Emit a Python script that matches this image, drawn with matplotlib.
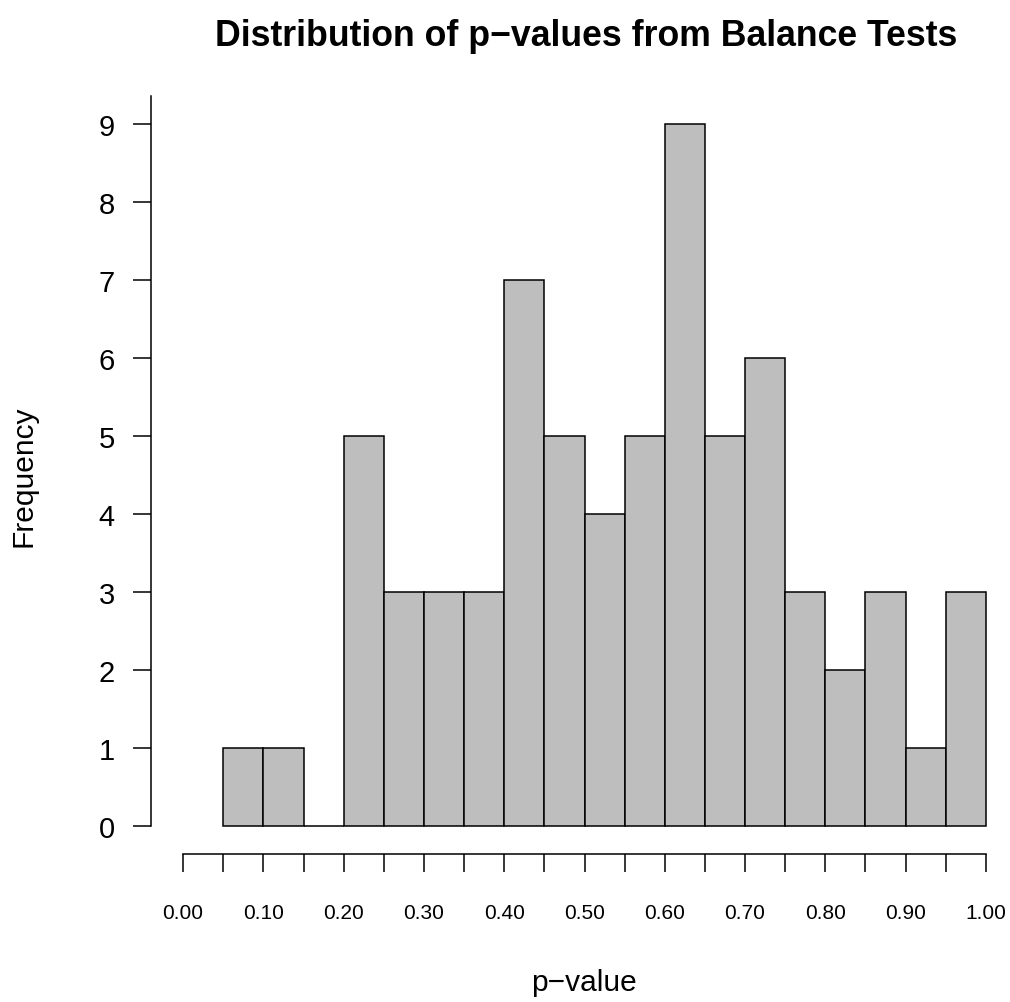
import matplotlib
matplotlib.use("Agg")
import matplotlib.pyplot as plt

# histogram of balance-test p-values, bins of width 0.05
bin_edges = [0.05, 0.10, 0.15, 0.20, 0.25, 0.30, 0.35, 0.40, 0.45, 0.50, 0.55,
             0.60, 0.65, 0.70, 0.75, 0.80, 0.85, 0.90, 0.95, 1.00]
counts = [1, 1, 0, 5, 3, 3, 3, 7, 5, 4, 5, 9, 5, 6, 3, 2, 3, 1, 3]
x_ticks = [0.00, 0.05, 0.10, 0.15, 0.20, 0.25, 0.30, 0.35, 0.40, 0.45, 0.50,
           0.55, 0.60, 0.65, 0.70, 0.75, 0.80, 0.85, 0.90, 0.95, 1.00]
x_labels = ["0.00", "", "0.10", "", "0.20", "", "0.30", "", "0.40", "", "0.50",
            "", "0.60", "", "0.70", "", "0.80", "", "0.90", "", "1.00"]
y_ticks = [0, 1, 2, 3, 4, 5, 6, 7, 8, 9]

plt.rcParams['font.family'] = ['Liberation Sans', 'DejaVu Sans']

W, H = 1010, 1003
fig = plt.figure(figsize=(W / 100, H / 100), dpi=100)
ax = fig.add_axes([151 / W, (H - 855) / H, 867 / W, 758 / H])

lefts = bin_edges[:-1]
widths = [b - a for a, b in zip(bin_edges[:-1], bin_edges[1:])]
ax.bar(lefts, counts, width=widths, align='edge', color='#BEBEBE',
       edgecolor='black', linewidth=1.1)

ax.set_xlim(-0.04, 1.04)
ax.set_ylim(-0.36, 9.36)

for s in ['top', 'right']:
    ax.spines[s].set_visible(False)
ax.spines['bottom'].set_bounds(0, 1)
ax.spines['left'].set_bounds(0, 9.36)
for s in ['bottom', 'left']:
    ax.spines[s].set_linewidth(1.1)

ax.set_xticks(x_ticks)
ax.set_xticklabels(x_labels)
ax.set_yticks(y_ticks)
ax.tick_params(axis='x', direction='out', length=13, width=1.1, pad=22, labelsize=15)
ax.tick_params(axis='y', direction='out', length=13, width=1.1, pad=13, labelsize=21)

fig.text(586 / W, 1 - 36 / H, "Distribution of p\u2212values from Balance Tests",
         ha='center', va='center', fontsize=25.7, fontweight='bold')
fig.text(584 / W, 1 - 983 / H, "p\u2212value", ha='center', va='center', fontsize=21.5)
fig.text(24 / W, 1 - 476 / H, "Frequency", ha='center', va='center',
         rotation=90, fontsize=21.5)

fig.savefig("out.png", dpi=100)
